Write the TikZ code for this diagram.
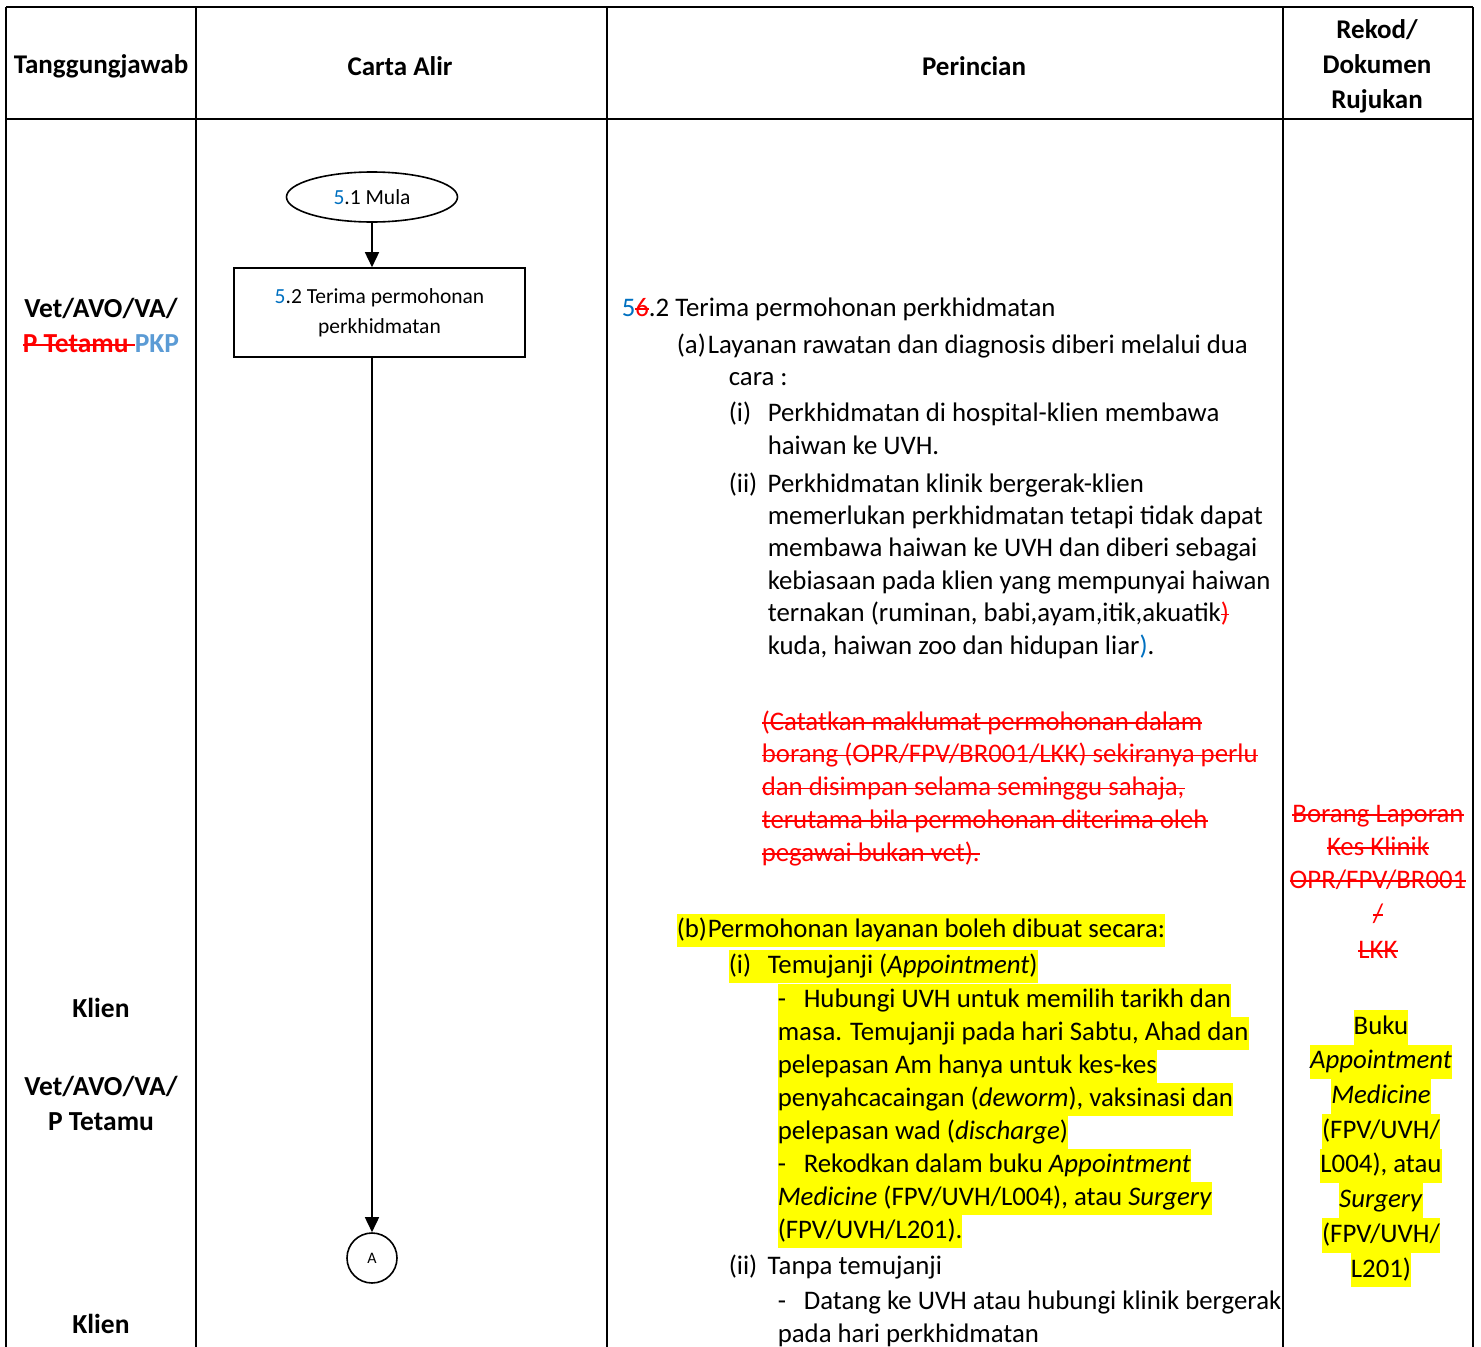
\documentclass[tikz,border=0pt]{standalone}
\usepackage{fontspec}
\setmainfont{Carlito}
\usepackage{xcolor}
\usepackage{tikz}
\usetikzlibrary{positioning,arrows.meta,shapes.geometric,calc}
\definecolor{revblue}{HTML}{0070C0}
\definecolor{pkpblue}{HTML}{5B9BD5}
\definecolor{hlyellow}{HTML}{FFFF00}
\definecolor{delred}{HTML}{FF0000}
\setlength{\fboxsep}{0pt}
\newsavebox{\strkbox}
\newcommand{\strk}[1]{{\color{delred}\sbox{\strkbox}{#1}%
  \rlap{\usebox{\strkbox}}\rule[0.24em]{\wd\strkbox}{1.5pt}}}
\newcommand{\hlt}[1]{\colorbox{hlyellow}{\strut #1}}

\begin{document}
\begin{tikzpicture}[x=1pt, y=-1pt, line width=1.6pt,
    every node/.style={inner sep=0pt},
    hdr/.style={font=\bfseries\fontsize{27}{35}\selectfont, align=center},
    role/.style={font=\bfseries\fontsize{27.5}{35}\selectfont, align=center},
    startend/.style={draw, ellipse, minimum width=171pt, minimum height=50pt,
          font=\fontsize{21.5}{30}\selectfont},
    process/.style={draw, rectangle, minimum width=291pt, minimum height=89pt,
          align=center, font=\fontsize{21.5}{30}\selectfont},
    connector/.style={draw, circle, minimum size=50pt, font=\fontsize{16}{18}\selectfont},
    flow/.style={-{Triangle[length=15pt,width=14pt]}},
    body/.style={font=\fontsize{26.8}{32.4}\selectfont, align=left, anchor=base west},
    rekod/.style={font=\fontsize{26.8}{33}\selectfont, align=center, anchor=base}]
  \useasboundingbox (0,0) rectangle (1481,1347);

  % table frame
  \draw (6,7) -- (1473,7);
  \draw (6,119) -- (1473,119);
  \foreach \x in {6,196,607,1283,1473}
    \draw (\x,7) -- (\x,1352);

  % header row
  \node[hdr] (hTang) at (101,66) {Tanggungjawab};
  \node[hdr] (hCarta) at (400,66) {Carta Alir};
  \node[hdr] (hPerincian) at (974,66) {Perincian};
  \node[hdr] (hRekod) at (1377,66) {Rekod/\\Dokumen\\Rujukan};

  % tanggungjawab column
  \node[role] (vet1) at (101,325.5) {Vet/AVO/VA/\\\strk{P Tetamu }{\color{pkpblue}PKP}};
  \node[role] (klien1) at (101,1008) {Klien};
  \node[role] (vet2) at (101,1103) {Vet/AVO/VA/\\P Tetamu};
  \node[role] (klien2) at (101,1324) {Klien};

  % carta alir
  \node[startend] (mula) at (372,197) {{\color{revblue}5}.1 Mula};
  \node[process] (terima) at (379.5,312.5) {{\color{revblue}5}.2 Terima permohonan\\perkhidmatan};
  \node[connector] (A) at (372,1258) {A};
  \draw[flow] (mula) -- (mula.south |- terima.north);
  \draw[flow] (terima.south -| A.north) -- (A.north);

  % perincian (anchored at the baseline of the last line)
  \node[body] (p52) at (621,654) {%
    {\color{revblue}5}\strk{6}.2 Terima permohonan perkhidmatan\\[4.6pt]
    \hspace*{55pt}\makebox[31pt][l]{(a)}Layanan rawatan dan diagnosis diberi melalui dua\\
    \hspace*{107pt}cara :\\[3.6pt]
    \hspace*{107pt}\makebox[39pt][l]{(i)}Perkhidmatan di hospital-klien membawa\\
    \hspace*{146pt}haiwan ke UVH.\\[5.6pt]
    \hspace*{107pt}\makebox[39pt][l]{(ii)}Perkhidmatan klinik bergerak-klien\\
    \hspace*{146pt}memerlukan perkhidmatan tetapi tidak dapat\\
    \hspace*{146pt}membawa haiwan ke UVH dan diberi sebagai\\
    \hspace*{146pt}kebiasaan pada klien yang mempunyai haiwan\\
    \hspace*{146pt}ternakan (ruminan, babi,ayam,itik,akuatik\strk{)}\\
    \hspace*{146pt}kuda, haiwan zoo dan hidupan liar{\color{revblue})}.};
  \node[body, font=\fontsize{26.8}{32.75}\selectfont] (catat) at (761,861) {%
    \strk{(Catatkan maklumat permohonan dalam}\\
    \strk{borang (OPR/FPV/BR001/LKK) sekiranya perlu}\\
    \strk{dan disimpan selama seminggu sahaja,}\\
    \strk{terutama bila permohonan diterima oleh}\\
    \strk{pegawai bukan vet).}};
  \node[body, font=\fontsize{26.8}{33}\selectfont] (pb) at (676,1342) {%
    \hlt{\makebox[31pt][l]{(b)}Permohonan layanan boleh dibuat secara:}\\[3pt]
    \hspace*{52pt}\hlt{\makebox[39pt][l]{(i)}Temujanji (\textit{Appointment})}\\[1pt]
    \hspace*{101pt}\hlt{\makebox[26pt][l]{-}Hubungi UVH untuk memilih tarikh dan}\\
    \hspace*{101pt}\hlt{masa. Temujanji pada hari Sabtu, Ahad dan}\\
    \hspace*{101pt}\hlt{pelepasan Am hanya untuk kes-kes}\\
    \hspace*{101pt}\hlt{penyahcacaingan (\textit{deworm}), vaksinasi dan}\\
    \hspace*{101pt}\hlt{pelepasan wad (\textit{discharge})}\\
    \hspace*{101pt}\hlt{\makebox[26pt][l]{-}Rekodkan dalam buku \textit{Appointment}}\\
    \hspace*{101pt}\hlt{\textit{Medicine} (FPV/UVH/L004), atau \textit{Surgery}}\\
    \hspace*{101pt}\hlt{(FPV/UVH/L201).}\\[3pt]
    \hspace*{52pt}\makebox[39pt][l]{(ii)}Tanpa temujanji\\[2pt]
    \hspace*{101pt}\makebox[26pt][l]{-}Datang ke UVH atau hubungi klinik bergerak\\
    \hspace*{101pt}pada hari perkhidmatan};

  % rekod / dokumen rujukan
  \node[rekod] (borang) at (1378,958) {%
    \strk{Borang Laporan}\\\strk{Kes Klinik}\\\strk{OPR/FPV/BR001}\\[1pt]\strk{/}\\[3pt]\strk{LKK}};
  \node[rekod, font=\fontsize{26.8}{34.7}\selectfont] (buku) at (1381,1277) {%
    \hlt{Buku}\\\hlt{\textit{Appointment}}\\\hlt{\textit{Medicine}}\\\hlt{(FPV/UVH/}\\
    \hlt{L004), atau}\\\hlt{\textit{Surgery}}\\\hlt{(FPV/UVH/}\\\hlt{L201)}};
\end{tikzpicture}
\end{document}
